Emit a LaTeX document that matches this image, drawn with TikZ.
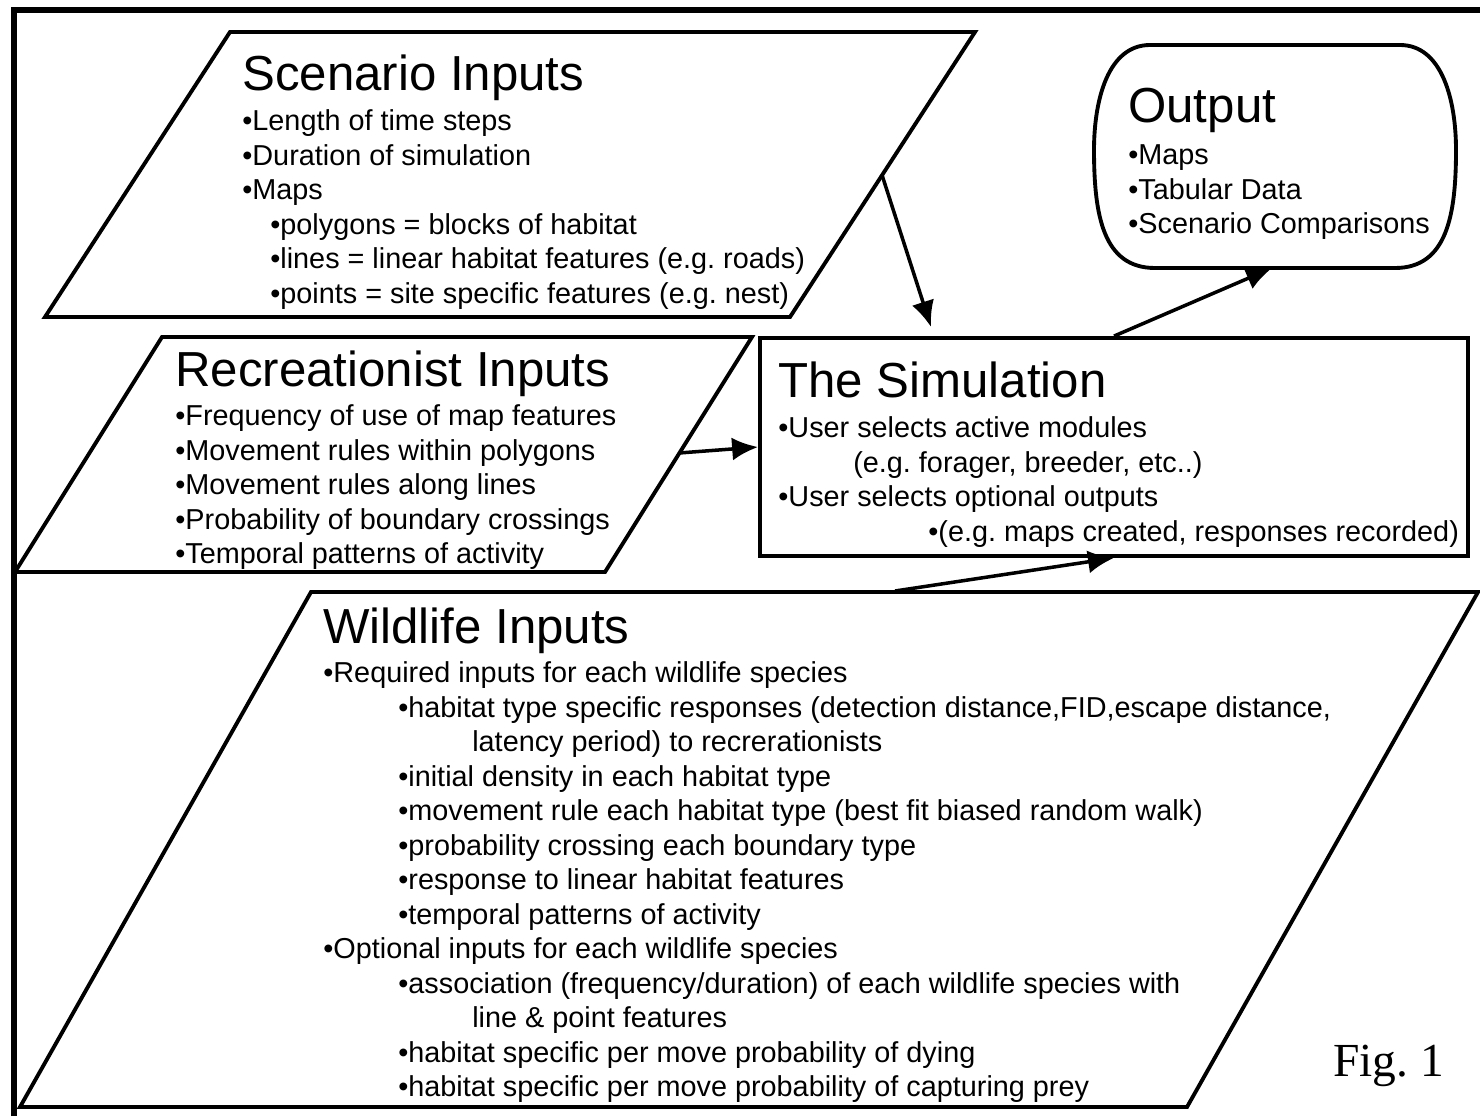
\documentclass[tikz,border=0pt]{standalone}
\usepackage{fontspec}
\setmainfont{Liberation Sans}
\newfontfamily\figfont{Liberation Serif}
\usetikzlibrary{arrows.meta}
\frenchspacing

\begin{document}
\begin{tikzpicture}[x=0.02cm, y=-0.02cm,
        outline/.style={line width=2.2pt, line join=miter},
        flow/.style={line width=2pt, -{Latex[length=0.52cm, width=0.46cm]}},
        heading/.style={anchor=base west, inner sep=0pt, font=\fontsize{28}{34}\selectfont},
        items/.style={anchor=north west, inner sep=0pt, align=left, font=\fontsize{16.4}{19.65}\selectfont}]

        \useasboundingbox (0,0) rectangle (1480,1116);

        % Frame
        \draw[line width=3.2pt] (14,1116) -- (14,10) -- (1480,10);

        % Scenario inputs
        \draw[outline] (230,32) -- (975,32) -- (790,317) -- (45,317) -- cycle;
        \node[heading] (scnhead) at (242,90) {Scenario Inputs};
        \node[items] (scnitems) at (242,106) {\strut•Length of time steps\\
            •Duration of simulation\\
            •Maps\\
            \hspace*{0.56cm}•polygons = blocks of habitat\\
            \hspace*{0.56cm}•lines = linear habitat features (e.g. roads)\\
            \hspace*{0.56cm}•points = site specific features (e.g. nest)};
        \coordinate (scnout) at (882,175);

        % Recreationist inputs
        \draw[outline] (162,337) -- (752,337) -- (605,572) -- (15,572) -- cycle;
        \node[heading] (rechead) at (175,386) {Recreationist Inputs};
        \node[items] (recitems) at (175,401) {\strut•Frequency of use of map features\\
            •Movement rules within polygons\\
            •Movement rules along lines\\
            •Probability of boundary crossings\\
            •Temporal patterns of activity};
        \coordinate (recout) at (679,453);

        % The simulation
        \node[draw, line width=2.2pt, minimum width=14.16cm, minimum height=4.36cm] (sim) at (1114,447) {};
        \node[heading] (simhead) at (778,397) {The Simulation};
        \node[items] (simitems) at (778,413) {\strut•User selects active modules\\
            \hspace*{1.5cm}(e.g. forager, breeder, etc..)\\
            •User selects optional outputs\\
            \hspace*{3cm}•(e.g. maps created, responses recorded)};
        \coordinate (simin) at (931,327);

        % Output
        \draw[outline] (1150,45) -- (1400,45) .. controls (1442,45) and (1456,100) .. (1456,150)
            .. controls (1456,215) and (1447,268) .. (1395,268) -- (1155,268)
            .. controls (1103,268) and (1094,215) .. (1094,150)
            .. controls (1094,100) and (1108,45) .. (1150,45) -- cycle;
        \node[heading] (outhead) at (1128,122) {Output};
        \node[items] (outitems) at (1128,140) {\strut•Maps\\
            •Tabular Data\\
            •Scenario Comparisons};
        \coordinate (outin) at (1272,268);

        % Wildlife inputs
        \draw[outline] (311,592) -- (1478,592) -- (1187,1107) -- (20,1107) -- cycle;
        \node[heading] (wldhead) at (323,643) {Wildlife Inputs};
        \node[items] (wlditems) at (323,658) {\strut•Required inputs for each wildlife species\\
            \hspace*{1.5cm}•habitat type specific responses (detection distance,FID,escape distance,\\
            \hspace*{2.98cm}latency period) to recrerationists\\
            \hspace*{1.5cm}•initial density in each habitat type\\
            \hspace*{1.5cm}•movement rule each habitat type (best fit biased random walk)\\
            \hspace*{1.5cm}•probability crossing each boundary type\\
            \hspace*{1.5cm}•response to linear habitat features\\
            \hspace*{1.5cm}•temporal patterns of activity\\
            •Optional inputs for each wildlife species\\
            \hspace*{1.5cm}•association (frequency/duration) of each wildlife species with\\
            \hspace*{2.98cm}line \& point features\\
            \hspace*{1.5cm}•habitat specific per move probability of dying\\
            \hspace*{1.5cm}•habitat specific per move probability of capturing prey};
        \coordinate (wldout) at (895,591);

        % Arrows
        \draw[flow] (scnout) -- (simin);
        \draw[flow] (recout) -- (sim.west);
        \draw[flow] (sim.north) -- (outin);
        \draw[flow] (wldout) -- (sim.south);

        \node[anchor=base west, inner sep=0pt, font=\figfont\fontsize{27}{32}\selectfont] (figlabel) at (1333,1076) {Fig. 1};
    \end{tikzpicture}
\end{document}
